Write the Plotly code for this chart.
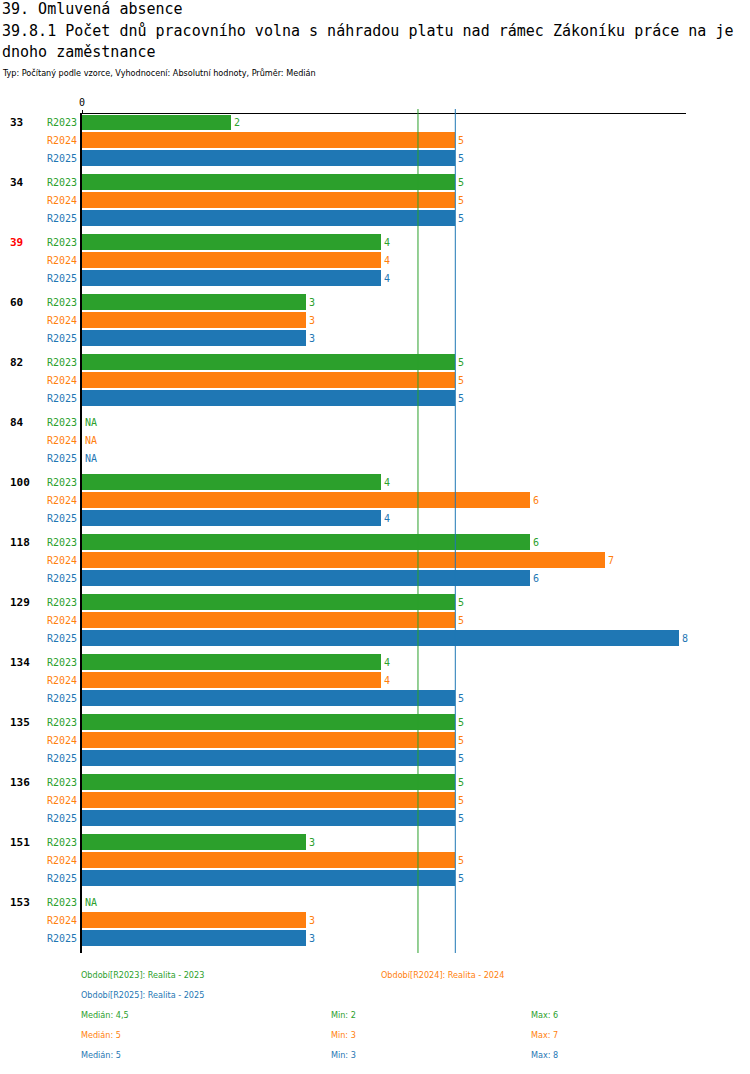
import numpy as np
import plotly.graph_objects as go

# data
categories = ["33", "34", "39", "60", "82", "84", "100", "118", "129", "134", "135", "136", "151", "153"]
series_names = ["R2023", "R2024", "R2025"]
r2023 = [2, 5, 4, 3, 5, None, 4, 6, 5, 4, 5, 5, 3, None]
r2024 = [5, 5, 4, 3, 5, None, 6, 7, 5, 4, 5, 5, 5, 3]
r2025 = [5, 5, 4, 3, 5, None, 4, 6, 8, 5, 5, 5, 5, 3]
period_labels = ["Období[R2023]: Realita - 2023", "Období[R2024]: Realita - 2024", "Období[R2025]: Realita - 2025"]
highlight = "39"

colors = ["#2ca02c", "#ff7f0e", "#1f77b4"]
values = [r2023, r2024, r2025]

W, H = 750, 1074
L, R, T, B = 82, 686, 114, 953
GROUP, STEP = 60, 18
mono = "DejaVu Sans Mono"
narrow = "DejaVu Sans Condensed"


def py(p):
    # pixel row -> paper y
    return (B - p) / (B - T)


def px(p):
    return (p - L) / (R - L)


fig = go.Figure()
annotations = []

for s, (name, vals, col) in enumerate(zip(series_names, values, colors)):
    ys = [g * GROUP + s * STEP for g in range(len(categories))]
    xs = [v if v is not None else 0 for v in vals]
    txt = [str(v) if v is not None else "" for v in vals]
    fig.add_trace(go.Bar(
        x=xs, y=ys, orientation="h", width=16,
        marker=dict(color=col, line=dict(width=0)),
        text=txt, textposition="outside", cliponaxis=False,
        textfont=dict(family=mono, size=10, color=col),
        name=name, showlegend=False, hoverinfo="skip",
    ))
    for g, v in enumerate(vals):
        annotations.append(dict(
            x=px(L - 3), xref="paper", y=ys[g], yref="y", text=name, showarrow=False,
            xanchor="right", yanchor="middle", font=dict(family=mono, size=10, color=col)))
        if v is None:
            annotations.append(dict(
                x=0, xref="x", y=ys[g], yref="y", text="NA", showarrow=False, xshift=1,
                xanchor="left", yanchor="middle", font=dict(family=mono, size=10, color=col)))

for g, c in enumerate(categories):
    annotations.append(dict(
        x=px(8), xref="paper", y=g * GROUP, yref="y", text="<b>%s</b>" % c, showarrow=False,
        xanchor="left", yanchor="middle",
        font=dict(family=mono, size=11, color="#ff0000" if c == highlight else "black")))

# median lines (a later series hides an earlier one with the same median)
shapes = []
stats = []
for i, (vals, col) in enumerate(zip(values, colors)):
    v = np.array([x for x in vals if x is not None], dtype=float)
    stats.append((float(np.median(v)), int(v.min()), int(v.max())))
for i, (med, _, _) in enumerate(stats):
    if any(m == med for m, _, _ in stats[i + 1:]):
        continue
    shapes.append(dict(type="line", xref="x", yref="paper", x0=med, x1=med,
                       y0=0, y1=py(109), line=dict(color=colors[i], width=1)))

# left axis line
shapes.append(dict(type="line", xref="paper", yref="paper", x0=px(81), x1=px(81),
                   y0=0, y1=py(113), line=dict(color="black", width=2)))

# titles
titles = [
    (9, "39. Omluvená absence", 15, mono),
    (31, "39.8.1 Počet dnů pracovního volna s náhradou platu nad rámec Zákoníku práce na je", 15, mono),
    (52, "dnoho zaměstnance", 15, mono),
    (73, "Typ: Počítaný podle vzorce, Vyhodnocení: Absolutní hodnoty, Průměr: Medián", 9, narrow),
]
for yy, t, sz, fam in titles:
    annotations.append(dict(x=px(0), xref="paper", y=py(yy), yref="paper", text=t, showarrow=False,
                            xanchor="left", yanchor="middle", font=dict(family=fam, size=sz, color="black")))


# legend / stats block
def fmt(x):
    return ("%g" % x).replace(".", ",")


legend_rows = [
    (975, px(79), period_labels[0], colors[0]),
    (975, px(379), period_labels[1], colors[1]),
    (995, px(79), period_labels[2], colors[2]),
]
for i, (med, mn, mx) in enumerate(stats):
    yy = 1015 + 20 * i
    legend_rows.append((yy, px(79), "Medián: " + fmt(med), colors[i]))
    legend_rows.append((yy, px(329), "Min: %d" % mn, colors[i]))
    legend_rows.append((yy, px(529), "Max: %d" % mx, colors[i]))
for yy, xx, t, col in legend_rows:
    annotations.append(dict(x=xx, xref="paper", y=py(yy), yref="paper", text=t, showarrow=False,
                            xanchor="left", yanchor="middle", font=dict(family=narrow, size=9, color=col)))

n = len(categories)
fig.update_layout(
    width=W, height=H,
    margin=dict(l=L, r=W - R, t=T, b=H - B, pad=0),
    paper_bgcolor="white", plot_bgcolor="white",
    barmode="overlay", bargap=0,
    xaxis=dict(range=[0, 8.09], side="top", showgrid=False, zeroline=False,
               showline=True, linecolor="black", linewidth=1,
               tickvals=[0], ticktext=["0"], ticks="outside", ticklen=3, tickcolor="black",
               tickfont=dict(family=mono, size=10, color="black")),
    yaxis=dict(range=[(n - 1) * GROUP + 2 * STEP + 15, -8.5], showgrid=False, zeroline=False,
               showticklabels=False, showline=False),
    annotations=annotations, shapes=shapes,
    font=dict(family=mono),
)

fig.write_html("out.html", config={"displayModeBar": False},
               post_script="document.body.style.margin='0';")
